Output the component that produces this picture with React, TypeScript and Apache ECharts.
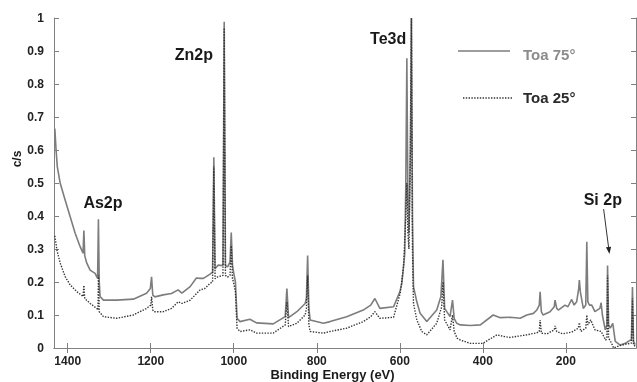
import React, { useEffect, useRef } from "react";
import * as echarts from "echarts";

// Binding energy tick values (eV)
const xTickValues = [200, 400, 600, 800, 1000, 1200, 1400];

// Toa 75° spectrum: [binding energy (eV), c/s]
const toa75: [number, number][] = [
  [1431, 0.665], [1428, 0.6], [1425, 0.549], [1418, 0.499], [1406, 0.448], [1394, 0.398],
  [1382, 0.348], [1370, 0.307], [1363, 0.287], [1361, 0.356], [1359, 0.28], [1354, 0.257],
  [1346, 0.236], [1334, 0.226], [1328, 0.211], [1326, 0.39], [1324, 0.2], [1322, 0.156],
  [1314, 0.145], [1282, 0.145], [1242, 0.148], [1210, 0.166], [1201, 0.18], [1198, 0.216],
  [1195, 0.16], [1190, 0.155], [1170, 0.161], [1150, 0.165], [1134, 0.176], [1125, 0.166],
  [1105, 0.186], [1090, 0.212], [1081, 0.211], [1073, 0.211], [1057, 0.224], [1051, 0.23],
  [1048, 0.578], [1045, 0.24], [1038, 0.251], [1026, 0.25], [1023, 0.989], [1020, 0.25],
  [1015, 0.246], [1009, 0.26], [1006, 0.35], [1003, 0.25], [1000, 0.227], [996, 0.2],
  [992, 0.09], [985, 0.08], [961, 0.087], [945, 0.076], [905, 0.073], [876, 0.095],
  [872, 0.18], [868, 0.092], [848, 0.11], [828, 0.135], [825, 0.15], [822, 0.28],
  [819, 0.12], [816, 0.085], [784, 0.075], [768, 0.08], [728, 0.095], [688, 0.115],
  [670, 0.13], [660, 0.15], [648, 0.12], [615, 0.125], [600, 0.17], [595, 0.196],
  [588, 0.287], [585.5, 0.5], [583, 0.878], [580.5, 0.45], [578, 0.348], [574.5, 0.6],
  [572, 1.0], [569.5, 0.4], [567, 0.186], [559, 0.14], [551, 0.105], [535, 0.08],
  [511, 0.115], [501, 0.156], [496, 0.267], [492, 0.12], [479, 0.095], [473, 0.145],
  [469, 0.09], [463, 0.075], [454, 0.07], [430, 0.068], [406, 0.07], [375, 0.1],
  [358, 0.092], [334, 0.093], [310, 0.09], [294, 0.1], [278, 0.105], [270, 0.115],
  [264, 0.13], [262, 0.17], [259, 0.11], [255, 0.1], [238, 0.11], [228, 0.125],
  [226, 0.145], [222, 0.12], [218, 0.115], [202, 0.13], [195, 0.125], [186, 0.147],
  [180, 0.13], [174, 0.14], [169, 0.18], [167.5, 0.206], [165, 0.17], [158, 0.12],
  [152, 0.13], [149.5, 0.322], [147, 0.14], [143, 0.13], [137.5, 0.13], [130, 0.11],
  [118, 0.12], [115, 0.137], [112, 0.1], [105, 0.055], [101, 0.07], [99.5, 0.25],
  [97, 0.07], [93, 0.06], [87, 0.075], [81, 0.02], [69, 0.009], [55, 0.015],
  [50, 0.02], [42, 0.025], [39.5, 0.185], [37, 0.02], [33, 0.01],
];

// Toa 25° spectrum: [binding energy (eV), c/s]
const toa25: [number, number][] = [
  [1431, 0.34], [1426, 0.297], [1418, 0.257], [1406, 0.216], [1394, 0.191], [1378, 0.171],
  [1363, 0.156], [1361, 0.19], [1359, 0.15], [1346, 0.135], [1330, 0.12], [1327, 0.115],
  [1326, 0.22], [1324, 0.11], [1314, 0.095], [1282, 0.09], [1242, 0.1], [1210, 0.12],
  [1200, 0.13], [1198, 0.155], [1195, 0.115], [1192, 0.11], [1170, 0.11], [1150, 0.12],
  [1134, 0.14], [1125, 0.135], [1105, 0.145], [1081, 0.176], [1070, 0.18], [1057, 0.196],
  [1051, 0.2], [1048, 0.55], [1045, 0.21], [1038, 0.216], [1026, 0.22], [1023, 0.97],
  [1020, 0.22], [1015, 0.215], [1009, 0.22], [1006, 0.31], [1003, 0.21], [1000, 0.196],
  [996, 0.17], [992, 0.06], [985, 0.05], [961, 0.055], [945, 0.045], [905, 0.045],
  [876, 0.07], [872, 0.14], [868, 0.065], [848, 0.075], [828, 0.1], [825, 0.12],
  [822, 0.22], [819, 0.07], [816, 0.05], [784, 0.045], [768, 0.05], [728, 0.06],
  [688, 0.08], [670, 0.095], [660, 0.11], [648, 0.09], [615, 0.093], [599, 0.166],
  [591, 0.246], [585.5, 0.4], [583, 0.5], [580.5, 0.35], [578, 0.3], [574.5, 0.6],
  [572, 1.0], [569.5, 0.3], [567, 0.135], [559, 0.085], [547, 0.05], [535, 0.04],
  [511, 0.075], [499, 0.125], [496, 0.2], [492, 0.085], [479, 0.055], [473, 0.1],
  [469, 0.05], [462, 0.03], [454, 0.024], [430, 0.014], [400, 0.014], [366, 0.04],
  [350, 0.035], [334, 0.032], [294, 0.04], [270, 0.046], [264, 0.05], [262, 0.085],
  [259, 0.045], [245, 0.043], [228, 0.055], [226, 0.067], [222, 0.05], [208, 0.043],
  [186, 0.048], [170, 0.06], [167.5, 0.077], [164, 0.05], [152, 0.06], [149.5, 0.1],
  [147, 0.07], [140, 0.085], [130, 0.055], [115, 0.05], [104, 0.024], [101, 0.03],
  [99.5, 0.22], [97, 0.03], [90, 0.015], [85, 0.0], [70, 0.007], [55, 0.012],
  [42, 0.015], [39.5, 0.15], [37, 0.01], [33, 0.005],
];

// Peak annotation names and anchor points in data space
const peakNames = ["Zn2p", "Te3d", "As2p", "Si 2p"];
const peakAnchors: [number, number][] = [[1096, 0.889], [628, 0.939], [1315, 0.442], [111, 0.451]];
const siArrow: [number, number][] = [[109, 0.421], [95, 0.285]];

const FONT = "'Liberation Sans', Arial, Helvetica, sans-serif";
const FRAME = "#808080";
const C75 = "#7d7d7d";
const C25 = "#333333";

export default function App() {
  const ref = useRef<HTMLDivElement>(null);
  useEffect(() => {
    const chart = echarts.init(ref.current!, null, { renderer: "svg" });
    const hiddenLabel = { show: false };
    const tickStyle = { show: true, inside: true, length: 5, lineStyle: { color: FRAME, width: 1 } };
    chart.setOption({
      animation: false,
      grid: { left: 54, right: 1, top: 18, bottom: 34 },
      xAxis: [
        {
          type: "value", inverse: true, min: 31, max: 1433, position: "bottom",
          axisLine: { show: true, lineStyle: { color: FRAME, width: 1 } },
          axisTick: { ...tickStyle, customValues: xTickValues },
          axisLabel: {
            customValues: xTickValues, fontSize: 12, fontWeight: "bold", color: "#222", fontFamily: FONT, margin: 7,
            formatter: (v: number) => String(Math.round(v)),
          },
          splitLine: { show: false },
        },
        {
          type: "value", inverse: true, min: 31, max: 1433, position: "top",
          axisLine: { show: true, lineStyle: { color: FRAME, width: 1 } },
          axisTick: { ...tickStyle, customValues: xTickValues },
          axisLabel: hiddenLabel,
          splitLine: { show: false },
        },
      ],
      yAxis: [
        {
          type: "value", min: 0, max: 1, interval: 0.1, position: "left",
          axisLine: { show: true, lineStyle: { color: FRAME, width: 1 } },
          axisTick: tickStyle,
          axisLabel: {
            fontSize: 12, fontWeight: "bold", color: "#222", fontFamily: FONT, margin: 10,
            formatter: (v: number) => String(+v.toFixed(1)),
          },
          splitLine: { show: false },
        },
        {
          type: "value", min: 0, max: 1, interval: 0.1, position: "right",
          axisLine: { show: true, lineStyle: { color: FRAME, width: 1 } },
          axisTick: tickStyle,
          axisLabel: hiddenLabel,
          splitLine: { show: false },
        },
      ],
      series: [
        {
          type: "line", name: "Toa 75°", data: toa75, xAxisIndex: 0, yAxisIndex: 0,
          symbol: "none", lineStyle: { color: C75, width: 1.6 }, z: 2,
        },
        {
          type: "line", name: "Toa 25°", data: toa25, xAxisIndex: 0, yAxisIndex: 0,
          symbol: "none", lineStyle: { color: C25, width: 1.4, type: [1.4, 1.4] }, z: 3,
        },
      ],
    });

    const px = (p: [number, number]) => chart.convertToPixel({ xAxisIndex: 0, yAxisIndex: 0 }, p) as number[];
    const labelEls = peakNames.map((name, i) => {
      const [x, y] = px(peakAnchors[i]);
      return {
        type: "text", x, y,
        style: { text: name, fontSize: 16, fontWeight: "bold", fontFamily: FONT, fill: "#1a1a1a", textAlign: "center", textVerticalAlign: "middle" },
      };
    });
    const [a0, a1] = siArrow.map(px);
    const dx = a1[0] - a0[0], dy = a1[1] - a0[1];
    const len = Math.hypot(dx, dy);
    const ux = dx / len, uy = dy / len;
    const bx = a1[0] - ux * 7, by = a1[1] - uy * 7;
    const arrowEls = [
      { type: "line", shape: { x1: a0[0], y1: a0[1], x2: bx, y2: by }, style: { stroke: "#333", lineWidth: 1 } },
      {
        type: "polygon",
        shape: { points: [[a1[0], a1[1]], [bx - uy * 2.6, by + ux * 2.6], [bx + uy * 2.6, by - ux * 2.6]] },
        style: { fill: "#222" },
      },
    ];

    chart.setOption({
      graphic: [
        ...labelEls,
        ...arrowEls,
        { type: "line", shape: { x1: 458, y1: 51, x2: 510, y2: 51 }, style: { stroke: C75, lineWidth: 1.6 } },
        { type: "text", x: 523, y: 54.5, style: { text: "Toa 75°", fontSize: 15, fontWeight: "bold", fontFamily: FONT, fill: "#8c8c8c", textVerticalAlign: "middle" } },
        { type: "line", shape: { x1: 463, y1: 98, x2: 513, y2: 98 }, style: { stroke: C25, lineWidth: 1.4, lineDash: [1.4, 1.4] } },
        { type: "text", x: 523, y: 97.5, style: { text: "Toa 25°", fontSize: 15, fontWeight: "bold", fontFamily: FONT, fill: "#2a2a2a", textVerticalAlign: "middle" } },
        { type: "text", x: 332.5, y: 374, style: { text: "Binding Energy (eV)", fontSize: 13, fontWeight: "bold", fontFamily: FONT, fill: "#1a1a1a", textAlign: "center", textVerticalAlign: "middle" } },
        { type: "text", x: 17, y: 159, rotation: Math.PI / 2, style: { text: "c/s", fontSize: 12, fontWeight: "bold", fontFamily: FONT, fill: "#1a1a1a", textAlign: "center", textVerticalAlign: "middle" } },
      ],
    });
    return () => chart.dispose();
  }, []);
  return <div ref={ref} style={{ position: "fixed", left: 0, top: 0, width: 637, height: 382 }} />;
}
